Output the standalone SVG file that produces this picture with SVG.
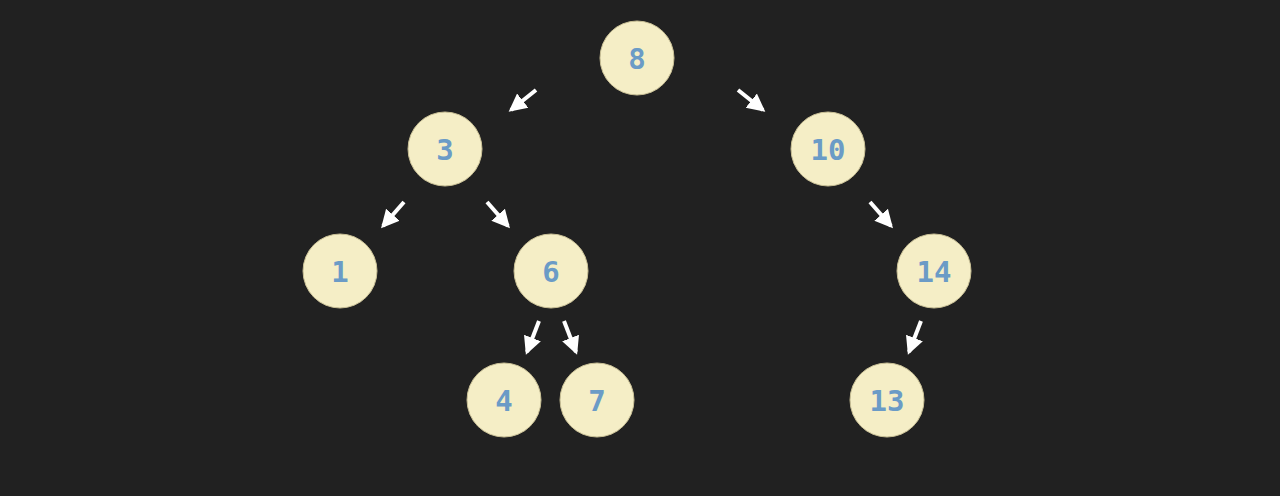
<svg xmlns="http://www.w3.org/2000/svg" width="1280" height="496" viewBox="0 0 1280 496">
<style>
.n circle{fill:#f5eec6;stroke:#c9c096;stroke-width:1}
.n text{fill:#6b9bc6;font-family:"DejaVu Sans Mono",monospace;font-weight:bold;font-size:29px;text-anchor:middle;dominant-baseline:central}
.e line{stroke:#ffffff;stroke-width:4;marker-end:url(#ah)}
</style>
<defs>
<marker id="ah" markerUnits="userSpaceOnUse" markerWidth="20" markerHeight="20" refX="15" refY="10" orient="auto" viewBox="0 0 20 20">
<path d="M0,1 L18,10 L0,19 Z" fill="#ffffff"/>
</marker>
</defs>
<rect width="1280" height="496" fill="#212121"/>
<g id="connectors" class="e">
<line x1="536" y1="90" x2="511" y2="110"/>
<line x1="738" y1="90" x2="763" y2="110"/>
<line x1="404" y1="202" x2="383" y2="226"/>
<line x1="487" y1="202" x2="508" y2="226"/>
<line x1="870" y1="202" x2="891" y2="226"/>
<line x1="539" y1="321" x2="527" y2="352"/>
<line x1="564" y1="321" x2="576" y2="352"/>
<line x1="921" y1="321" x2="909" y2="352"/>
</g>
<g id="n8" class="n"><circle cx="637" cy="58" r="37"/><text x="637" y="59">8</text></g>
<g id="n3" class="n"><circle cx="445" cy="149" r="37"/><text x="445" y="150">3</text></g>
<g id="n10" class="n"><circle cx="828" cy="149" r="37"/><text x="828" y="150">10</text></g>
<g id="n1" class="n"><circle cx="340" cy="271" r="37"/><text x="340" y="272">1</text></g>
<g id="n6" class="n"><circle cx="551" cy="271" r="37"/><text x="551" y="272">6</text></g>
<g id="n14" class="n"><circle cx="934" cy="271" r="37"/><text x="934" y="272">14</text></g>
<g id="n4" class="n"><circle cx="504" cy="400" r="37"/><text x="504" y="401">4</text></g>
<g id="n7" class="n"><circle cx="597" cy="400" r="37"/><text x="597" y="401">7</text></g>
<g id="n13" class="n"><circle cx="887" cy="400" r="37"/><text x="887" y="401">13</text></g>
</svg>
